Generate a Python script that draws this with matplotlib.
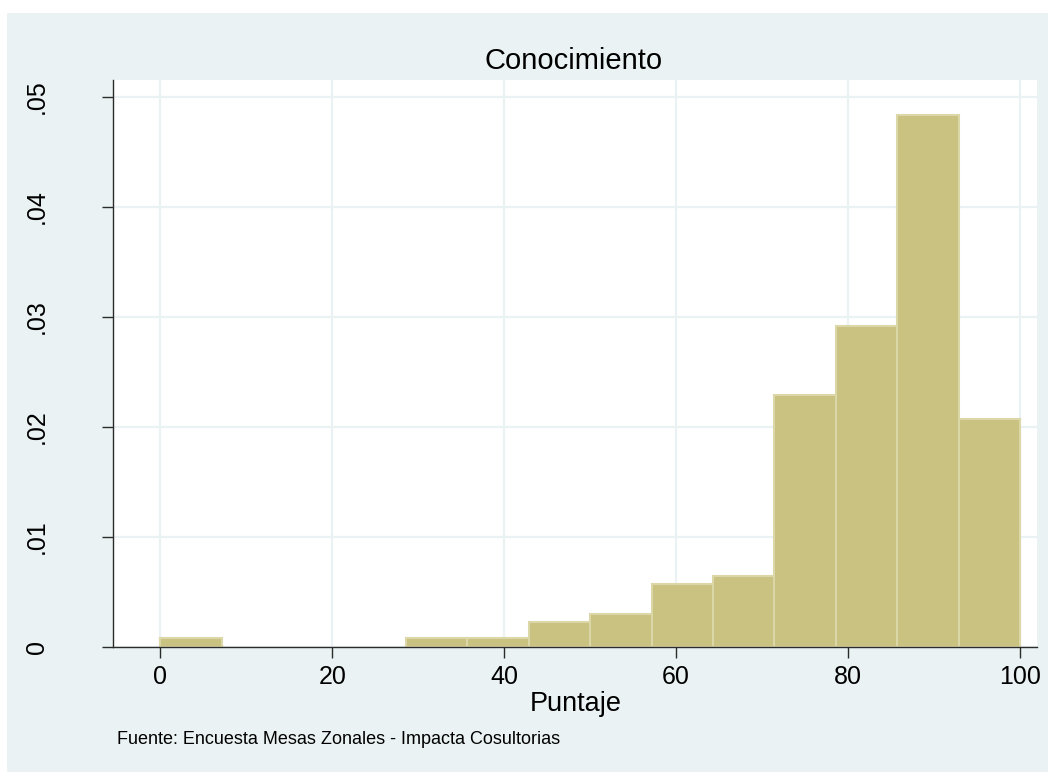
import numpy as np
import matplotlib
matplotlib.use("Agg")
import matplotlib.pyplot as plt
from matplotlib.patches import Rectangle

# Histogram of "Puntaje" (density scale), 14 equal-width bins over 0-100
bin_lo, bin_hi, n_bins = 0, 100, 14
density = [0.0008, 0.0, 0.0, 0.0, 0.0008, 0.0008, 0.00225, 0.00297,
           0.00576, 0.00645, 0.0229, 0.0292, 0.0484, 0.0207]

x_ticks = [0, 20, 40, 60, 80, 100]
y_ticks = [0, 0.01, 0.02, 0.03, 0.04, 0.05]
y_tick_labels = ["0", ".01", ".02", ".03", ".04", ".05"]

title = "Conocimiento"
x_label = "Puntaje"
note = "Fuente: Encuesta Mesas Zonales - Impacta Cosultorias"

plt.rcParams["font.family"] = ["Liberation Sans", "DejaVu Sans"]

W, H = 1048, 773
fig = plt.figure(figsize=(W / 100, H / 100), dpi=100)
fig.patch.set_facecolor("white")

panel = "#EAF2F3"
fig.add_artist(Rectangle((7 / W, 1 / H), 1 - 7 / W, (H - 14) / H,
                         transform=fig.transFigure, facecolor=panel,
                         edgecolor="none", zorder=0))

ax = fig.add_axes([113 / W, (H - 647) / H, (1037 - 113) / W, (647 - 80) / H])
ax.set_facecolor("white")

edges = np.linspace(bin_lo, bin_hi, n_bins + 1)
dens = np.asarray(density)
keep = dens > 0
ax.bar(edges[:-1][keep], dens[keep], width=np.diff(edges)[keep], align="edge",
       color="#CAC281", edgecolor="#DCD7A6", linewidth=1.5, zorder=3)

ax.set_xlim(-5.5, 101.98)
ax.set_ylim(0, 0.05155)
ax.set_xticks(x_ticks)
ax.set_yticks(y_ticks)
ax.set_yticklabels(y_tick_labels, rotation=90, va="center")

ax.grid(True, color=panel, linewidth=1.6, zorder=1)
ax.set_axisbelow(True)

for s in ("top", "right"):
    ax.spines[s].set_visible(False)
for s in ("left", "bottom"):
    ax.spines[s].set_color("#2b2b2b")
    ax.spines[s].set_linewidth(1.0)
    ax.spines[s].set_zorder(4)

ax.tick_params(axis="both", direction="out", length=8, width=1.0,
               color="#2b2b2b", labelsize=18, labelcolor="black")
ax.tick_params(axis="x", pad=5)
ax.tick_params(axis="y", pad=38)

fig.text(574 / W, (H - 61) / H, title, ha="center", va="center", fontsize=21)
fig.text(576 / W, (H - 704) / H, x_label, ha="center", va="center", fontsize=19.5)
fig.text(117 / W, (H - 739) / H, note, ha="left", va="center", fontsize=13)

fig.savefig("out.png", dpi=100, facecolor="white")
